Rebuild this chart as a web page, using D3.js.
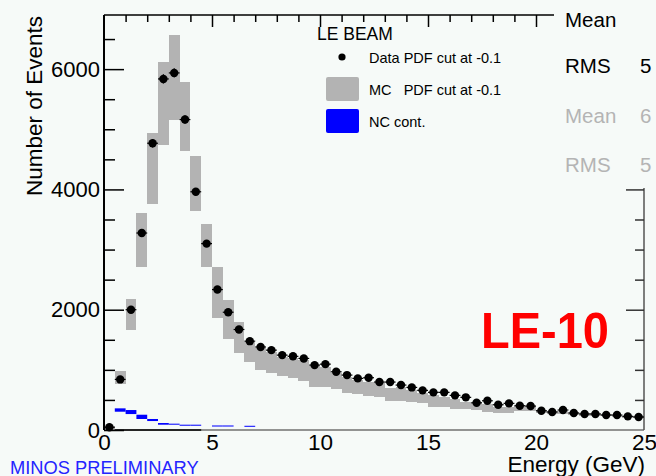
<!DOCTYPE html>
<html>
<head>
<meta charset="utf-8">
<script src="https://cdn.jsdelivr.net/npm/d3@7"></script>
<style>
  html, body { margin: 0; padding: 0; background: #f6faf8; }
  svg { display: block; font-family: "Liberation Sans", Arial, Helvetica, sans-serif; }
</style>
</head>
<body>
<svg id="chart" width="656" height="476"></svg>
<script>
// Energy spectrum, 0.5 GeV bins from 0 to 25 GeV
const binWidth = 0.5;
const binLow = d3.range(0, 25, binWidth);

// Data events per bin (PDF cut at -0.1)
const dataCounts = [
  45, 841, 2000, 3275, 4768, 5837, 5937, 5162, 3961, 3099,
  2335, 1958, 1671, 1477, 1380, 1328, 1245, 1225, 1190, 1079,
  1095, 968, 913, 858, 869, 797, 797, 747, 708, 659,
  626, 626, 576, 543, 453, 486, 420, 443, 404, 398,
  320, 299, 332, 282, 266, 266, 249, 249, 227, 216
];

// MC prediction band, lower and upper edge per bin
const mcLow = [
  20, 763, 1660, 2711, 3763, 4742, 5162, 4636, 3640, 2710,
  1864, 1505, 1283, 1134, 996, 951, 896, 858, 819, 719,
  708, 675, 609, 592, 570, 553, 481, 487, 470, 453,
  387, 376, 345, 343, 332, 304, 288, 277, 320, 320,
  280, 270, 265, 250, 240, 235, 225, 215, 205, 195
];
const mcHigh = [
  70, 984, 2186, 3607, 4941, 6119, 6568, 5781, 4548, 3430,
  2710, 2169, 1788, 1466, 1356, 1300, 1217, 1189, 1162, 1062,
  1040, 941, 885, 830, 802, 775, 692, 708, 664, 609,
  581, 553, 515, 470, 443, 432, 387, 387, 398, 398,
  330, 315, 310, 295, 280, 275, 265, 255, 240, 230
];

// NC contamination band (null where empty)
const ncLow = [
  null, 304, 265, 183, 149, 88, 88, 71, 71, null,
  58, 58, null, 55, null, null, null, null, null, null,
  null, null, null, null, null, null, null, null, null, null,
  null, null, null, null, null, null, null, null, null, null,
  null, null, null, null, null, null, null, null, null, null
];
const ncHigh = [
  null, 360, 332, 254, 183, 116, 105, 88, 88, null,
  75, 75, null, 70, null, null, null, null, null, null,
  null, null, null, null, null, null, null, null, null, null,
  null, null, null, null, null, null, null, null, null, null,
  null, null, null, null, null, null, null, null, null, null
];

const xTickValues = [0, 5, 10, 15, 20, 25];
const xTickLabels = ["0", "5", "10", "15", "20", "25"];
const yTickValues = [0, 2000, 4000, 6000];
const yTickLabels = ["0", "2000", "4000", "6000"];

const legendTitle = "LE BEAM";
const legendLabels = ["Data PDF cut at -0.1", "MC   PDF cut at -0.1", "NC cont."];
const statsRows = [
  { label: "Mean", value: "", muted: false },
  { label: "RMS", value: "5", muted: false },
  { label: "Mean", value: "6", muted: true },
  { label: "RMS", value: "5", muted: true }
];

const BG = "#f6faf8";
const MC_GREY = "#b3b3b3";
const NC_BLUE = "#0000ff";

const svg = d3.select("#chart");
svg.append("rect").attr("width", 656).attr("height", 476).attr("fill", BG);

const x = d3.scaleLinear().domain([0, 25]).range([104, 644]);
const y = d3.scaleLinear().domain([0, 6900]).range([430, 15]);

const bins = binLow.map((lo, i) => ({
  lo, hi: lo + binWidth, mid: lo + binWidth / 2,
  n: dataCounts[i], mcLo: mcLow[i], mcHi: mcHigh[i],
  ncLo: ncLow[i], ncHi: ncHigh[i]
}));

// MC band
svg.append("g").selectAll("rect").data(bins).join("rect")
  .attr("x", d => x(d.lo))
  .attr("width", d => x(d.hi) - x(d.lo))
  .attr("y", d => y(d.mcHi))
  .attr("height", d => y(d.mcLo) - y(d.mcHi))
  .attr("fill", MC_GREY)
  .attr("shape-rendering", "crispEdges");

// NC band
svg.append("g").selectAll("rect").data(bins.filter(d => d.ncLo !== null)).join("rect")
  .attr("x", d => x(d.lo))
  .attr("width", d => x(d.hi) - x(d.lo))
  .attr("y", d => y(d.ncHi))
  .attr("height", d => Math.max(1, y(d.ncLo) - y(d.ncHi)))
  .attr("fill", NC_BLUE);

// Frame
const frame = svg.append("g").attr("fill", "none");
frame.append("line").attr("x1", x(0)).attr("x2", x(25)).attr("y1", y(0)).attr("y2", y(0))
  .attr("stroke", "#707070").attr("stroke-width", 1.5);
frame.append("line").attr("x1", x(0.5)).attr("x2", x(4.5)).attr("y1", y(0)).attr("y2", y(0))
  .attr("stroke", "#000").attr("stroke-width", 1.5);
frame.append("line").attr("x1", x(25)).attr("x2", x(25)).attr("y1", y(6900)).attr("y2", y(0))
  .attr("stroke", "#555").attr("stroke-width", 1.5);
frame.append("line").attr("x1", x(0)).attr("x2", x(25)).attr("y1", y(6900)).attr("y2", y(6900))
  .attr("stroke", "#000").attr("stroke-width", 1.5);
frame.append("line").attr("x1", x(0)).attr("x2", x(0)).attr("y1", y(6900)).attr("y2", y(0))
  .attr("stroke", "#000").attr("stroke-width", 2);

// Data: horizontal bin-width bars, statistical errors, markers
const dataG = svg.append("g");
dataG.selectAll("line.xerr").data(bins).join("line")
  .attr("class", "xerr")
  .attr("x1", d => x(d.lo)).attr("x2", d => x(d.hi))
  .attr("y1", d => y(d.n)).attr("y2", d => y(d.n))
  .attr("stroke", "#000").attr("stroke-width", 1.2);
dataG.selectAll("line.yerr").data(bins).join("line")
  .attr("class", "yerr")
  .attr("x1", d => x(d.mid)).attr("x2", d => x(d.mid))
  .attr("y1", d => y(d.n + Math.sqrt(d.n))).attr("y2", d => y(d.n - Math.sqrt(d.n)))
  .attr("stroke", "#000").attr("stroke-width", 1.2);
dataG.selectAll("circle").data(bins).join("circle")
  .attr("cx", d => x(d.mid)).attr("cy", d => y(d.n)).attr("r", 4.2)
  .attr("fill", "#000");

// Axes ticks
function styleAxis(g) {
  g.select(".domain").remove();
  g.selectAll("line").attr("stroke", "#000").attr("stroke-width", 1.5);
  g.attr("font-family", null).attr("font-size", null);
}

const yMinor = d3.range(0, 7000, 500).filter(v => v % 2000 !== 0);
svg.append("g").attr("transform", `translate(${x(0)},0)`)
  .call(d3.axisLeft(y).tickValues(yMinor).tickSizeInner(-11).tickSizeOuter(0).tickFormat(""))
  .call(styleAxis);
svg.append("g").attr("transform", `translate(${x(0)},0)`)
  .call(d3.axisLeft(y).tickValues(yTickValues).tickSizeInner(-20).tickSizeOuter(0).tickPadding(4)
    .tickFormat((d, i) => yTickLabels[i]))
  .call(styleAxis)
  .call(g => g.selectAll("text").attr("font-size", 22).attr("fill", "#000"));

svg.append("g").attr("transform", `translate(${x(25)},0)`)
  .call(d3.axisRight(y).tickValues(yMinor).tickSizeInner(-9).tickSizeOuter(0).tickFormat(""))
  .call(styleAxis)
  .call(g => g.selectAll("line").attr("stroke", "#333"));
svg.append("g").attr("transform", `translate(${x(25)},0)`)
  .call(d3.axisRight(y).tickValues([2000, 4000, 6000]).tickSizeInner(-18).tickSizeOuter(0).tickFormat(""))
  .call(styleAxis)
  .call(g => g.selectAll("line").attr("stroke", "#333"));

const xMinor = d3.range(1, 25).filter(v => v % 5 !== 0);
svg.append("g").attr("transform", `translate(0,${y(6900)})`)
  .call(d3.axisTop(x).tickValues(xMinor).tickSizeInner(-7).tickSizeOuter(0).tickFormat(""))
  .call(styleAxis);
svg.append("g").attr("transform", `translate(0,${y(6900)})`)
  .call(d3.axisTop(x).tickValues([5, 10, 15, 20]).tickSizeInner(-12).tickSizeOuter(0).tickFormat(""))
  .call(styleAxis);

svg.append("g").attr("transform", `translate(0,${y(0)})`)
  .call(d3.axisBottom(x).tickValues(xTickValues).tickSizeInner(0).tickSizeOuter(0).tickPadding(4)
    .tickFormat((d, i) => xTickLabels[i]))
  .call(styleAxis)
  .call(g => g.selectAll("text").attr("font-size", 22.5).attr("fill", "#000"));

// Axis titles
svg.append("text")
  .attr("transform", "translate(42,106) rotate(-90)")
  .attr("text-anchor", "middle").attr("font-size", 22.5).attr("fill", "#000")
  .text("Number of Events");
svg.append("text")
  .attr("x", 645).attr("y", 472).attr("text-anchor", "end")
  .attr("font-size", 22.5).attr("fill", "#000")
  .text("Energy (GeV)");
svg.append("text")
  .attr("x", 10).attr("y", 474)
  .attr("font-size", 18.3).attr("fill", "#2424ff")
  .text("MINOS PRELIMINARY");

// Beam tag
svg.append("text")
  .attr("transform", "translate(481,348) scale(1,1.08)")
  .attr("font-size", 47).attr("font-weight", "bold").attr("fill", "#ff0000")
  .text("LE-10");

// Legend
const leg = svg.append("g");
leg.append("text").attr("x", 317).attr("y", 40).attr("font-size", 17.5).attr("fill", "#000")
  .text(legendTitle);
leg.append("circle").attr("cx", 342).attr("cy", 57).attr("r", 3.6).attr("fill", "#000");
leg.append("rect").attr("x", 326).attr("y", 77).attr("width", 33).attr("height", 24).attr("rx", 2)
  .attr("fill", MC_GREY);
leg.append("rect").attr("x", 326).attr("y", 109).attr("width", 33).attr("height", 24).attr("rx", 2)
  .attr("fill", NC_BLUE);
leg.selectAll("text.entry").data(legendLabels).join("text")
  .attr("class", "entry")
  .attr("x", 369).attr("y", (d, i) => [63, 95, 127][i])
  .attr("font-size", 14.5).attr("fill", "#000")
  .attr("xml:space", "preserve").style("white-space", "pre")
  .text(d => d);

// Statistics box (upper right)
const stats = svg.append("g");
stats.append("rect").attr("x", 554).attr("y", 0).attr("width", 102).attr("height", 188).attr("fill", BG);
const rowY = [27, 73, 123, 172];
stats.selectAll("text.lab").data(statsRows).join("text")
  .attr("class", "lab")
  .attr("x", 565).attr("y", (d, i) => rowY[i])
  .attr("font-size", 20.5).attr("fill", d => d.muted ? "#b4b4b4" : "#000")
  .text(d => d.label);
stats.selectAll("text.val").data(statsRows).join("text")
  .attr("class", "val")
  .attr("x", 640).attr("y", (d, i) => rowY[i])
  .attr("font-size", 20.5).attr("fill", d => d.muted ? "#b4b4b4" : "#000")
  .text(d => d.value);
</script>
</body>
</html>
